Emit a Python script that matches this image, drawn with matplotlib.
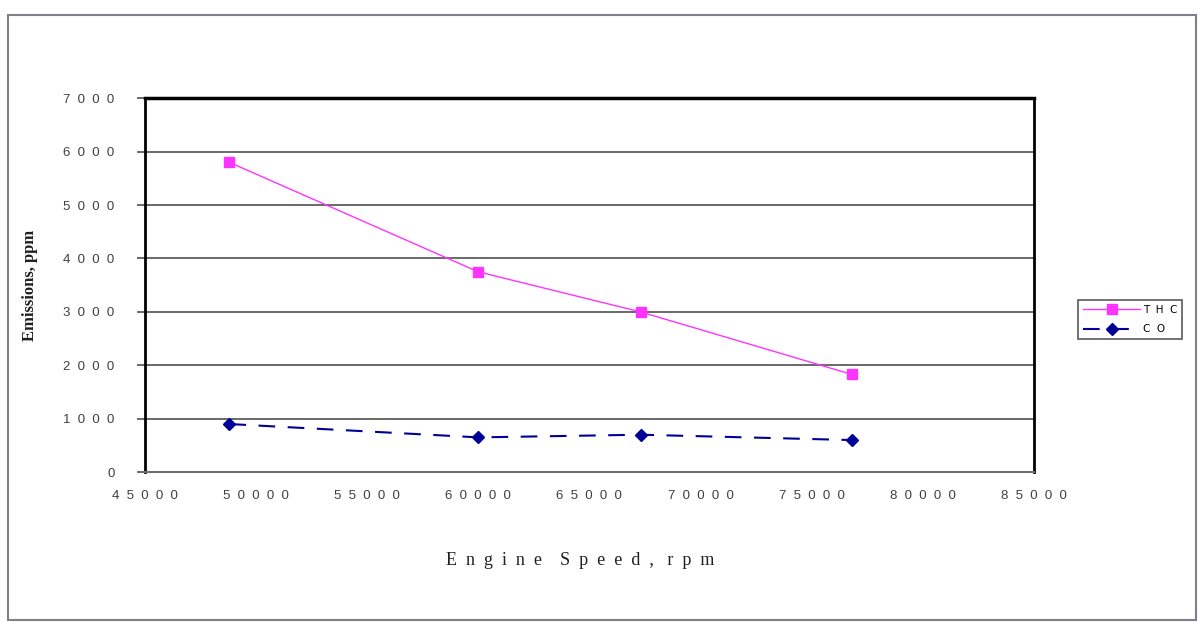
import matplotlib.pyplot as plt
from matplotlib.patches import Rectangle

# engine speed (rpm) and emissions (ppm)
speed = [48800, 60000, 67300, 76800]
thc = [5800, 3750, 3000, 1830]
co = [900, 650, 700, 600]

x_ticks = list(range(45000, 85001, 5000))
y_ticks = list(range(0, 7001, 1000))


def spaced(v):
    return '  '.join(str(v))


fig = plt.figure(figsize=(11.98, 6.22), dpi=100)
ax = fig.add_axes([0.121, 0.241, 0.742, 0.601])

# outer frame of the chart area
fig.patches.append(Rectangle((0.007, 0.003), 0.991, 0.973, transform=fig.transFigure,
                             fill=False, edgecolor='#808088', linewidth=1.5))

for y in y_ticks[1:-1]:
    ax.axhline(y, color='#505050', linewidth=1.2, zorder=1)

ax.plot(speed, thc, color='#ff33ff', linewidth=1.0, marker='s', markersize=7,
        markerfacecolor='#ff33ff', markeredgecolor='#ff33ff', label='T  H  C', zorder=3)
ax.plot(speed, co, color='#000099', linewidth=1.5, dashes=(8, 6), marker='D', markersize=6,
        markerfacecolor='#000099', markeredgecolor='#000099', label='C  O', zorder=3)

ax.set_xlim(45000, 85000)
ax.set_ylim(0, 7000)
ax.set_xticks(x_ticks)
ax.set_xticklabels([spaced(v) for v in x_ticks], fontsize=9.5, color='#404040',
                   family='Liberation Sans')
ax.set_yticks(y_ticks)
ax.set_yticklabels([spaced(v) for v in y_ticks], fontsize=9.5, color='#404040',
                   family='Liberation Sans')
ax.tick_params(axis='x', length=0, pad=13)
ax.tick_params(axis='y', length=6, width=1.2, color='#505050', pad=16)

ax.spines['top'].set_linewidth(2.5)
ax.spines['left'].set_linewidth(2)
ax.spines['right'].set_linewidth(2)
ax.spines['bottom'].set_color('#707070')
ax.spines['bottom'].set_linewidth(1.5)

ax.set_xlabel('E  n  g  i  n  e    S  p  e  e  d  ,   r  p  m', family='Liberation Serif',
              fontsize=13, color='#202020')
ax.xaxis.set_label_coords(0.49, -0.215)
ax.set_ylabel('Emissions, ppm', family='Liberation Serif', fontsize=12,
              fontweight='bold', color='#202020')
ax.yaxis.set_label_coords(-0.12, 0.5)

leg = fig.legend(loc='upper left', bbox_to_anchor=(0.9, 0.517), fontsize=7.5,
                 frameon=True, fancybox=False, edgecolor='#303030', handlelength=5.5,
                 borderpad=0.45, labelspacing=0.9, handletextpad=0.3, borderaxespad=0)
leg.get_frame().set_linewidth(1.2)

fig.savefig('out.png', dpi=100)
